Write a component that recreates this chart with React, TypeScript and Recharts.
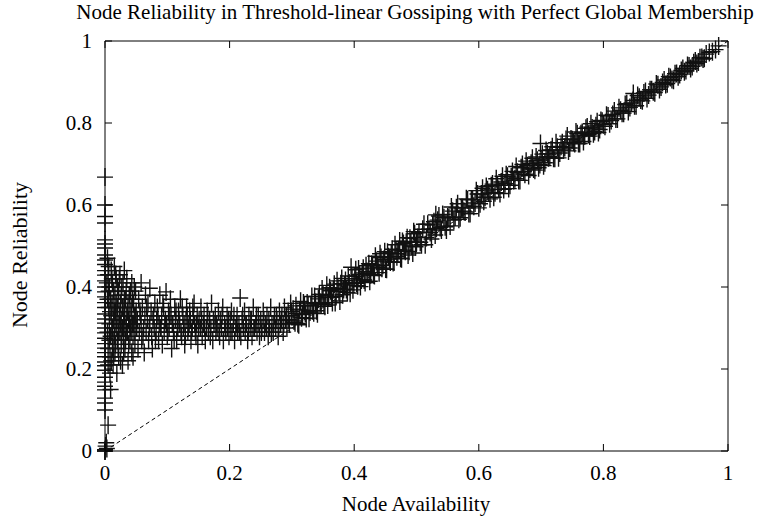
import { ScatterChart, Scatter, XAxis, YAxis, ReferenceLine } from "recharts";

// points stacked on the y axis (availability ~ 0)
const spikeX = [0, 0, 0, 0, 0, 0, 0, 0, 0, 0, 0, 0, 0, 0, 0, 0, 0, 0, 0, 0, 0, 0, 0, 0, 0, 0, 0, 0, 0, 0, 0, 0, 0, 0, 0, 0, 0, 0, 0.005, 0.002, 0.001, 0.003, 0, 0, 0];
const spikeY = [0.668, 0.6, 0.572, 0.556, 0.515, 0.505, 0.495, 0.478, 0.466, 0.455, 0.44, 0.429, 0.415, 0.4, 0.388, 0.376, 0.362, 0.35, 0.334, 0.322, 0.312, 0.3, 0.288, 0.275, 0.262, 0.251, 0.24, 0.23, 0.217, 0.208, 0.197, 0.18, 0.168, 0.158, 0.149, 0.129, 0.117, 0.1, 0.063, 0.02, 0.012, 0.006, 0.003, 0, 0];

// low availability cloud
const cloudX = [
  0.004, 0.005, 0.006, 0.006, 0.007, 0.007, 0.008, 0.008, 0.009, 0.01, 0.01, 0.011, 0.012, 0.012, 0.013, 0.013, 0.014, 0.015, 0.015, 0.016,
  0.016, 0.017, 0.018, 0.018, 0.019, 0.02, 0.02, 0.021, 0.022, 0.022, 0.023, 0.024, 0.024, 0.025, 0.026, 0.026, 0.027, 0.028, 0.028, 0.029,
  0.03, 0.031, 0.031, 0.032, 0.033, 0.034, 0.035, 0.035, 0.036, 0.037, 0.038, 0.039, 0.04, 0.041, 0.042, 0.043, 0.043, 0.044, 0.045, 0.046,
  0.047, 0.048, 0.049, 0.05, 0.05,
  0.052, 0.053, 0.054, 0.055, 0.056, 0.058, 0.058, 0.059, 0.06, 0.062, 0.063, 0.064, 0.065, 0.066, 0.068, 0.069, 0.07, 0.072, 0.072, 0.074,
  0.075, 0.076, 0.078, 0.079, 0.08, 0.082, 0.083, 0.084, 0.086, 0.087, 0.088, 0.09, 0.091, 0.092, 0.094, 0.095, 0.097, 0.098, 0.099, 0.1,
  0.102, 0.103, 0.105, 0.106, 0.107, 0.109, 0.11, 0.112, 0.113, 0.115, 0.116, 0.118, 0.12, 0.121, 0.123, 0.125, 0.126, 0.128, 0.13, 0.131,
  0.133, 0.135, 0.136, 0.138, 0.14, 0.142, 0.143, 0.145, 0.147, 0.149,
];
const cloudY = [
  0.47, 0.43, 0.39, 0.35, 0.31, 0.27, 0.23, 0.19, 0.15, 0.44, 0.33, 0.29, 0.41, 0.25, 0.36, 0.21, 0.32, 0.45, 0.28, 0.38,
  0.24, 0.34, 0.3, 0.42, 0.19, 0.35, 0.27, 0.31, 0.39, 0.23, 0.33, 0.29, 0.43, 0.36, 0.26, 0.32, 0.4, 0.21, 0.3, 0.35,
  0.28, 0.33, 0.44, 0.25, 0.37, 0.31, 0.42, 0.29, 0.34, 0.22, 0.32, 0.38, 0.27, 0.3, 0.35, 0.41, 0.24, 0.31, 0.28, 0.36,
  0.33, 0.26, 0.39, 0.3, 0.34,
  0.32, 0.25, 0.37, 0.29, 0.34, 0.41, 0.31, 0.27, 0.35, 0.3, 0.24, 0.33, 0.38, 0.29, 0.32, 0.36, 0.27, 0.397, 0.31, 0.34,
  0.28, 0.25, 0.33, 0.3, 0.36, 0.29, 0.32, 0.35, 0.27, 0.31, 0.38, 0.3, 0.33, 0.26, 0.35, 0.29, 0.32, 0.388, 0.31, 0.28,
  0.34, 0.3, 0.37, 0.33, 0.25, 0.31, 0.29, 0.35, 0.32, 0.27, 0.3, 0.34, 0.31, 0.37, 0.28, 0.33, 0.3, 0.26, 0.32, 0.35,
  0.29, 0.31, 0.34, 0.27, 0.3, 0.33, 0.36, 0.29, 0.31, 0.26,
];
const cloudX2 = [
  0.003, 0.004, 0.004, 0.005, 0.005, 0.006, 0.007, 0.008, 0.009, 0.009, 0.01, 0.011, 0.011, 0.012, 0.013, 0.014, 0.014, 0.015, 0.016, 0.017,
  0.017, 0.018, 0.019, 0.02, 0.021, 0.021, 0.022, 0.023, 0.024, 0.025, 0.025, 0.026, 0.027, 0.028, 0.029, 0.03, 0.03, 0.031, 0.032, 0.033,
  0.034, 0.034, 0.036, 0.037, 0.038, 0.039, 0.04, 0.041, 0.042, 0.043, 0.044, 0.045, 0.046, 0.047, 0.048, 0.049,
];
const cloudY2 = [
  0.41, 0.37, 0.29, 0.25, 0.21, 0.45, 0.4, 0.34, 0.28, 0.37, 0.22, 0.42, 0.35, 0.3, 0.27, 0.39, 0.23, 0.34, 0.31, 0.43,
  0.26, 0.36, 0.32, 0.4, 0.25, 0.37, 0.29, 0.42, 0.34, 0.31, 0.22, 0.38, 0.28, 0.35, 0.41, 0.32, 0.24, 0.37, 0.3, 0.27,
  0.39, 0.33, 0.29, 0.36, 0.26, 0.31, 0.34, 0.39, 0.29, 0.33, 0.37, 0.23, 0.31, 0.4, 0.29, 0.33,
];

// flat plateau before the curve joins the diagonal
const plateauX = [
  0.151, 0.153, 0.154, 0.156, 0.158, 0.159, 0.161, 0.163, 0.164, 0.166, 0.168, 0.17, 0.171, 0.173, 0.175, 0.177, 0.178, 0.18, 0.182, 0.184,
  0.185, 0.187, 0.189, 0.19, 0.192, 0.194, 0.196, 0.197, 0.199, 0.201, 0.203, 0.204, 0.206, 0.208, 0.21, 0.212, 0.213, 0.215, 0.217, 0.218,
  0.22, 0.222, 0.224, 0.225, 0.227, 0.229, 0.231, 0.233, 0.235, 0.236, 0.238, 0.24, 0.242, 0.244, 0.246, 0.248, 0.25, 0.252, 0.254, 0.256,
  0.258, 0.26, 0.262, 0.264, 0.266, 0.268, 0.27, 0.272, 0.274, 0.276, 0.278, 0.28, 0.282, 0.284, 0.286, 0.288, 0.29, 0.292, 0.294, 0.296,
  0.298, 0.3,
];
const plateauY = [
  0.32, 0.3, 0.35, 0.28, 0.31, 0.33, 0.27, 0.3, 0.34, 0.29, 0.32, 0.3, 0.36, 0.27, 0.31, 0.33, 0.29, 0.3, 0.34, 0.28,
  0.32, 0.3, 0.35, 0.27, 0.31, 0.29, 0.33, 0.3, 0.28, 0.32, 0.34, 0.29, 0.31, 0.27, 0.3, 0.33, 0.29, 0.31, 0.373, 0.28,
  0.32, 0.3, 0.34, 0.29, 0.31, 0.27, 0.33, 0.3, 0.32, 0.28, 0.35, 0.3, 0.31, 0.29, 0.33, 0.28, 0.32, 0.3, 0.34, 0.29,
  0.31, 0.33, 0.28, 0.3, 0.35, 0.31, 0.29, 0.33, 0.3, 0.32, 0.28, 0.34, 0.31, 0.33, 0.29, 0.35, 0.32, 0.3, 0.34, 0.31,
  0.36, 0.33,
];
const plateauX2 = [
  0.051, 0.057, 0.061, 0.067, 0.071, 0.077, 0.081, 0.085, 0.089, 0.093, 0.096, 0.101, 0.104, 0.108, 0.111, 0.114, 0.117, 0.119, 0.122, 0.124,
  0.127, 0.129, 0.132, 0.134, 0.137, 0.139, 0.141, 0.144, 0.146, 0.148, 0.15, 0.155, 0.16, 0.165, 0.169, 0.174, 0.179, 0.183, 0.188, 0.193,
  0.198, 0.202, 0.207, 0.211, 0.216, 0.221, 0.226, 0.23, 0.234, 0.239, 0.243, 0.247, 0.251, 0.255, 0.259, 0.263, 0.267, 0.271, 0.275, 0.279,
  0.283, 0.287, 0.291, 0.295, 0.299,
];
const plateauY2 = [
  0.3, 0.33, 0.28, 0.35, 0.3, 0.32, 0.27, 0.33, 0.3, 0.36, 0.31, 0.29, 0.33, 0.31, 0.27, 0.34, 0.3, 0.32, 0.29, 0.35,
  0.31, 0.28, 0.33, 0.3, 0.32, 0.29, 0.35, 0.31, 0.28, 0.33, 0.3, 0.32, 0.3, 0.33, 0.28, 0.32, 0.31, 0.29, 0.33, 0.3,
  0.32, 0.29, 0.33, 0.31, 0.29, 0.33, 0.31, 0.29, 0.32, 0.3, 0.33, 0.31, 0.29, 0.32, 0.3, 0.32, 0.29, 0.31, 0.33, 0.3,
  0.32, 0.31, 0.33, 0.32, 0.34,
];

// rising band that follows the diagonal
const bandX = [
  0.302, 0.305, 0.308, 0.311, 0.314, 0.317, 0.32, 0.323, 0.326, 0.329, 0.332, 0.335, 0.338, 0.341, 0.344, 0.347, 0.35, 0.353, 0.356, 0.359,
  0.362, 0.365, 0.368, 0.371, 0.374, 0.377, 0.38, 0.383, 0.386, 0.389, 0.392, 0.395, 0.398, 0.401, 0.404, 0.407, 0.41, 0.413, 0.416, 0.419,
  0.422, 0.425, 0.428, 0.431, 0.434, 0.437, 0.44, 0.443, 0.446, 0.449, 0.452, 0.455, 0.458, 0.461, 0.464, 0.467, 0.47, 0.473, 0.476, 0.479,
  0.482, 0.485, 0.488, 0.491, 0.494, 0.497, 0.5, 0.504, 0.508, 0.512, 0.516, 0.52, 0.524, 0.528, 0.531, 0.532, 0.536, 0.54, 0.544, 0.548,
  0.552, 0.556, 0.56, 0.564, 0.568, 0.572, 0.576, 0.58, 0.584, 0.588, 0.592, 0.596, 0.6, 0.604, 0.608, 0.612, 0.616, 0.62, 0.624, 0.628,
  0.632, 0.636, 0.64, 0.644, 0.648, 0.652, 0.656, 0.66, 0.664, 0.668, 0.672, 0.676, 0.68, 0.684, 0.688, 0.692, 0.696, 0.699, 0.7, 0.704,
  0.708, 0.712, 0.716, 0.72, 0.724, 0.728, 0.732, 0.736, 0.74, 0.744, 0.748, 0.752, 0.756, 0.76, 0.764, 0.768, 0.772, 0.776, 0.78, 0.784,
  0.788, 0.792, 0.796, 0.8, 0.805, 0.81, 0.815, 0.82, 0.825, 0.83, 0.835, 0.84, 0.845, 0.848, 0.85, 0.855, 0.86, 0.865, 0.87, 0.875,
  0.88, 0.885, 0.89, 0.895, 0.9, 0.905, 0.91, 0.915, 0.92, 0.925, 0.93, 0.935, 0.94, 0.945, 0.95, 0.955, 0.96, 0.965, 0.975, 0.985,
];
const bandY = [
  0.346, 0.313, 0.335, 0.308, 0.365, 0.333, 0.355, 0.323, 0.354, 0.339, 0.377, 0.337, 0.362, 0.335, 0.382, 0.359, 0.382, 0.353, 0.404, 0.375,
  0.391, 0.362, 0.407, 0.377, 0.397, 0.366, 0.421, 0.394, 0.416, 0.387, 0.41, 0.448, 0.393, 0.426, 0.409, 0.444, 0.401, 0.434, 0.417, 0.452,
  0.433, 0.414, 0.455, 0.43, 0.475, 0.452, 0.435, 0.472, 0.453, 0.486, 0.443, 0.474, 0.461, 0.492, 0.461, 0.49, 0.481, 0.512, 0.469, 0.506,
  0.487, 0.52, 0.487, 0.51, 0.483, 0.53, 0.509, 0.533, 0.503, 0.553, 0.521, 0.541, 0.517, 0.559, 0.576, 0.543, 0.573, 0.539, 0.569, 0.539,
  0.569, 0.595, 0.563, 0.593, 0.565, 0.593, 0.585, 0.615, 0.579, 0.613, 0.597, 0.635, 0.593, 0.627, 0.609, 0.645, 0.629, 0.647, 0.619, 0.664,
  0.638, 0.656, 0.638, 0.674, 0.64, 0.668, 0.66, 0.694, 0.66, 0.691, 0.681, 0.707, 0.672, 0.702, 0.688, 0.717, 0.691, 0.75, 0.71, 0.696,
  0.733, 0.715, 0.734, 0.714, 0.752, 0.715, 0.743, 0.734, 0.76, 0.732, 0.761, 0.753, 0.778, 0.75, 0.774, 0.755, 0.787, 0.772, 0.798, 0.774,
  0.793, 0.777, 0.806, 0.796, 0.819, 0.798, 0.821, 0.81, 0.837, 0.824, 0.845, 0.828, 0.849, 0.872, 0.842, 0.867, 0.856, 0.873, 0.86, 0.881,
  0.876, 0.895, 0.882, 0.899, 0.894, 0.913, 0.906, 0.92, 0.913, 0.928, 0.925, 0.94, 0.933, 0.947, 0.945, 0.959, 0.956, 0.968, 0.974, 0.988,
];
const bandX2 = [
  0.3035, 0.3065, 0.3095, 0.3125, 0.3155, 0.3185, 0.3215, 0.3245, 0.3275, 0.3305, 0.3335, 0.3365, 0.3395, 0.3425, 0.3455, 0.3485, 0.3515, 0.3545, 0.3575, 0.3605,
  0.3635, 0.3665, 0.3695, 0.3725, 0.3755, 0.3785, 0.3815, 0.3845, 0.3875, 0.3905, 0.3935, 0.3965, 0.3995, 0.4025, 0.4055, 0.4085, 0.4115, 0.4145, 0.4175, 0.4205,
  0.4235, 0.4265, 0.4295, 0.4325, 0.4355, 0.4385, 0.4415, 0.4445, 0.4475, 0.4505, 0.4535, 0.4565, 0.4595, 0.4625, 0.4655, 0.4685, 0.4715, 0.4745, 0.4775, 0.4805,
  0.4835, 0.4865, 0.4895, 0.4925, 0.4955, 0.4985, 0.502, 0.506, 0.51, 0.514, 0.518, 0.522, 0.526, 0.53, 0.534, 0.538, 0.542, 0.546, 0.55, 0.554,
  0.558, 0.562, 0.566, 0.57, 0.574, 0.578, 0.582, 0.586, 0.59, 0.594, 0.598, 0.602, 0.606, 0.61, 0.614, 0.618, 0.622, 0.626, 0.63, 0.634,
  0.638, 0.642, 0.646, 0.65, 0.654, 0.658, 0.662, 0.666, 0.67, 0.674, 0.678, 0.682, 0.686, 0.69, 0.694, 0.698, 0.702, 0.706, 0.71, 0.714,
  0.718, 0.722, 0.726, 0.73, 0.734, 0.738, 0.742, 0.746, 0.75, 0.754, 0.758, 0.762, 0.766, 0.77, 0.774, 0.778, 0.782, 0.786, 0.79, 0.794,
  0.798, 0.8025, 0.8075, 0.8125, 0.8175, 0.8225, 0.8275, 0.8325, 0.8375, 0.8425, 0.8475, 0.8525, 0.8575, 0.8625, 0.8675, 0.8725, 0.8775, 0.8825, 0.8875, 0.8925,
  0.8975, 0.9025, 0.9075, 0.9125, 0.9175, 0.9225, 0.9275, 0.9325, 0.9375, 0.9425, 0.9475, 0.9525, 0.958, 0.962, 0.97, 0.98,
];
const bandY2 = [
  0.317, 0.354, 0.311, 0.344, 0.325, 0.361, 0.336, 0.361, 0.324, 0.355, 0.342, 0.377, 0.342, 0.371, 0.362, 0.395, 0.358, 0.379, 0.356, 0.398,
  0.375, 0.394, 0.362, 0.415, 0.389, 0.408, 0.381, 0.405, 0.394, 0.427, 0.385, 0.42, 0.411, 0.442, 0.403, 0.43, 0.417, 0.446, 0.411, 0.438,
  0.457, 0.43, 0.453, 0.428, 0.463, 0.448, 0.481, 0.446, 0.467, 0.444, 0.485, 0.468, 0.483, 0.46, 0.503, 0.474, 0.491, 0.47, 0.511, 0.49,
  0.509, 0.478, 0.519, 0.5, 0.535, 0.498, 0.521, 0.509, 0.541, 0.503, 0.553, 0.533, 0.551, 0.527, 0.563, 0.545, 0.577, 0.547, 0.571, 0.549,
  0.585, 0.571, 0.603, 0.569, 0.593, 0.583, 0.613, 0.579, 0.613, 0.605, 0.627, 0.603, 0.641, 0.619, 0.637, 0.615, 0.651, 0.63, 0.648, 0.628,
  0.67, 0.652, 0.67, 0.648, 0.682, 0.664, 0.68, 0.66, 0.699, 0.675, 0.696, 0.688, 0.714, 0.685, 0.709, 0.699, 0.724, 0.703, 0.725, 0.718,
  0.742, 0.714, 0.741, 0.727, 0.752, 0.74, 0.768, 0.739, 0.759, 0.75, 0.774, 0.75, 0.777, 0.769, 0.79, 0.768, 0.788, 0.779, 0.803, 0.784,
  0.804, 0.792, 0.817, 0.806, 0.829, 0.81, 0.831, 0.824, 0.847, 0.838, 0.855, 0.842, 0.863, 0.854, 0.877, 0.868, 0.881, 0.874, 0.893, 0.888,
  0.905, 0.896, 0.911, 0.904, 0.921, 0.918, 0.933, 0.928, 0.939, 0.938, 0.951, 0.949, 0.96, 0.958, 0.972, 0.979,
];

const xTicks = [0, 0.2, 0.4, 0.6, 0.8, 1];
const xTickLabels = ["0", "0.2", "0.4", "0.6", "0.8", "1"];
const yTicks = [0, 0.2, 0.4, 0.6, 0.8, 1];
const yTickLabels = ["0", "0.2", "0.4", "0.6", "0.8", "1"];

const toPoints = (xs: number[], ys: number[]) => xs.map((x, i) => ({ x, y: ys[i] }));
const points = [
  ...toPoints(spikeX, spikeY),
  ...toPoints(cloudX, cloudY),
  ...toPoints(cloudX2, cloudY2),
  ...toPoints(plateauX, plateauY),
  ...toPoints(plateauX2, plateauY2),
  ...toPoints(bandX, bandY),
  ...toPoints(bandX2, bandY2),
];

const W = 763;
const H = 520;
const TOP = 41;
const BOTTOM = 451;
const LEFT = 105;
const RIGHT = 728;
const FONT = "'Liberation Serif', 'Times New Roman', serif";

function XTick(props: any) {
  const { x, payload } = props;
  const label = xTickLabels[xTicks.indexOf(payload.value)];
  return (
    <g>
      <line x1={x} x2={x} y1={BOTTOM} y2={BOTTOM - 7} stroke="#000" />
      <line x1={x} x2={x} y1={TOP} y2={TOP + 7} stroke="#000" />
      <text x={x} y={BOTTOM + 29} textAnchor="middle" fontFamily={FONT} fontSize={21} fill="#000">
        {label}
      </text>
    </g>
  );
}

function YTick(props: any) {
  const { y, payload } = props;
  const label = yTickLabels[yTicks.indexOf(payload.value)];
  return (
    <g>
      <line x1={LEFT} x2={LEFT + 7} y1={y} y2={y} stroke="#000" />
      <line x1={RIGHT} x2={RIGHT - 7} y1={y} y2={y} stroke="#000" />
      <text x={LEFT - 13} y={y + 7} textAnchor="end" fontFamily={FONT} fontSize={21} fill="#000">
        {label}
      </text>
    </g>
  );
}

function Plus(props: any) {
  const { cx, cy } = props;
  return <path d={`M${cx - 8},${cy}h16M${cx},${cy - 9}v18`} stroke="#111" strokeWidth={1.4} fill="none" />;
}

export default function App() {
  return (
    <div style={{ position: "absolute", left: 0, top: 0, width: W, height: H, background: "#fff" }}>
      <ScatterChart width={W} height={H} margin={{ top: TOP, right: W - RIGHT, bottom: 0, left: 0 }}>
        <XAxis
          type="number"
          dataKey="x"
          domain={[0, 1]}
          ticks={xTicks}
          interval={0}
          height={H - BOTTOM}
          tickSize={0}
          tickLine={false}
          axisLine={{ stroke: "#000" }}
          tick={<XTick />}
        />
        <YAxis
          type="number"
          dataKey="y"
          domain={[0, 1]}
          ticks={yTicks}
          interval={0}
          width={LEFT}
          tickSize={0}
          tickLine={false}
          axisLine={{ stroke: "#000" }}
          tick={<YTick />}
        />
        <ReferenceLine y={1} stroke="#000" />
        <ReferenceLine x={1} stroke="#000" />
        <ReferenceLine
          segment={[
            { x: 0, y: 0 },
            { x: 1, y: 1 },
          ]}
          stroke="#000"
          strokeDasharray="4 3"
        />
        <Scatter data={points} shape={<Plus />} isAnimationActive={false} />
        <text x={415} y={19} textAnchor="middle" fontFamily={FONT} fontSize={21} fill="#000">
          Node Reliability in Threshold-linear Gossiping with Perfect Global Membership
        </text>
        <text x={416} y={511} textAnchor="middle" fontFamily={FONT} fontSize={21} fill="#000">
          Node Availability
        </text>
        <text
          x={27}
          y={255}
          textAnchor="middle"
          transform="rotate(-90, 27, 255)"
          fontFamily={FONT}
          fontSize={22}
          fill="#000"
        >
          Node Reliability
        </text>
      </ScatterChart>
    </div>
  );
}
